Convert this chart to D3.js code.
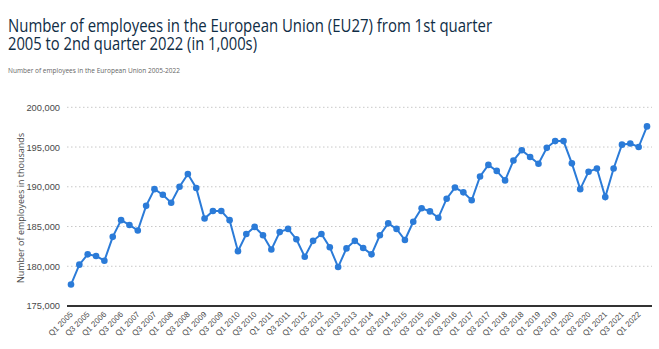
<!DOCTYPE html>
<html>
<head>
<meta charset="utf-8">
<script src="https://cdn.jsdelivr.net/npm/d3@7"></script>
<style>
  body { margin: 0; background: #fff; }
  svg { font-family: "Open Sans", sans-serif; }
  .grid line { stroke: #c8c8c8; stroke-dasharray: 1.5 2.5; }
  .axis text { fill: #4a4a4a; }
</style>
</head>
<body>
<div id="chart"></div>
<script>
// employees in the EU27, thousands, Q1 2005 .. Q2 2022
var years = d3.range(2005, 2023);
var quarters = [];
years.forEach(function(y) {
  ["Q1", "Q2", "Q3", "Q4"].forEach(function(q) { quarters.push(q + " " + y); });
});
quarters = quarters.slice(0, 70);

var employees = [
  177.7, 180.2, 181.5, 181.3, 180.7, 183.7, 185.8, 185.2, 184.5, 187.6,
  189.7, 189.0, 188.0, 190.0, 191.6, 189.85, 186.0, 186.95, 186.95, 185.8,
  181.9, 184.05, 184.95, 183.9, 182.1, 184.3, 184.7, 183.4, 181.2, 183.2,
  184.05, 182.4, 179.9, 182.25, 183.2, 182.3, 181.5, 183.9, 185.4, 184.7,
  183.3, 185.6, 187.3, 186.9, 186.1, 188.5, 189.9, 189.3, 188.3, 191.3,
  192.75, 192.0, 190.8, 193.3, 194.6, 193.75, 192.9, 194.9, 195.75, 195.75,
  192.95, 189.7, 191.9, 192.3, 188.7, 192.3, 195.3, 195.45, 195.0, 197.6
];

var yTicks = [175000, 180000, 185000, 190000, 195000, 200000];

var data = quarters.map(function(q, i) { return { quarter: q, value: employees[i] * 1000 }; });

var width = 659, height = 349;
var margin = { top: 107, left: 67, right: 7, bottom: 43 };

var svg = d3.select("#chart")
  .append("svg")
  .attr("width", width)
  .attr("height", height);

// two-line title as one text block
var title = svg.append("text")
  .attr("font-size", 18)
  .attr("fill", "#0f2d45");

title.append("tspan")
  .attr("x", 8).attr("y", 32)
  .attr("textLength", 484).attr("lengthAdjust", "spacingAndGlyphs")
  .text("Number of employees in the European Union (EU27) from 1st quarter");

title.append("tspan")
  .attr("x", 8).attr("y", 50)
  .attr("textLength", 249).attr("lengthAdjust", "spacingAndGlyphs")
  .text("2005 to 2nd quarter 2022 (in 1,000s)");

svg.append("text")
  .attr("x", 8).attr("y", 73)
  .attr("font-size", 7.5)
  .attr("fill", "#666")
  .attr("textLength", 172).attr("lengthAdjust", "spacingAndGlyphs")
  .text("Number of employees in the European Union 2005-2022");

var xPositionScale = d3.scalePoint()
  .domain(quarters)
  .range([71, 647]);

var yPositionScale = d3.scaleLinear()
  .domain([175000, 200000])
  .range([306, 107.3]);

// gridlines
svg.append("g")
  .attr("class", "grid")
  .selectAll("line")
  .data(yTicks.slice(1))
  .enter().append("line")
  .attr("x1", margin.left)
  .attr("x2", 652)
  .attr("y1", function(d) { return yPositionScale(d); })
  .attr("y2", function(d) { return yPositionScale(d); });

var yAxis = d3.axisLeft(yPositionScale)
  .tickValues(yTicks)
  .tickSize(0)
  .tickPadding(7)
  .tickFormat(d3.format(","));

svg.append("g")
  .attr("class", "y axis")
  .attr("transform", "translate(" + margin.left + ",0)")
  .call(yAxis)
  .call(function(g) { g.select(".domain").remove(); })
  .selectAll("text")
  .attr("font-size", 9.3);

svg.append("text")
  .attr("transform", "translate(24,208) rotate(-90)")
  .attr("text-anchor", "middle")
  .attr("font-size", 9)
  .attr("fill", "#4a4a4a")
  .text("Number of employees in thousands");

// baseline
svg.append("line")
  .attr("x1", margin.left).attr("x2", 652)
  .attr("y1", yPositionScale(175000)).attr("y2", yPositionScale(175000))
  .attr("stroke", "#333")
  .attr("stroke-width", 2);

var xAxis = d3.axisBottom(xPositionScale)
  .tickValues(quarters.filter(function(d, i) { return i % 2 === 0; }))
  .tickSize(0);

svg.append("g")
  .attr("class", "x axis")
  .attr("transform", "translate(0,310)")
  .call(xAxis)
  .call(function(g) { g.select(".domain").remove(); })
  .selectAll("text")
  .attr("font-size", 8)
  .attr("y", 0)
  .attr("x", -2)
  .attr("dy", ".6em")
  .attr("transform", "rotate(-45)")
  .style("text-anchor", "end");

var line = d3.line()
  .x(function(d) { return xPositionScale(d.quarter); })
  .y(function(d) { return yPositionScale(d.value); });

svg.append("path")
  .datum(data)
  .attr("fill", "none")
  .attr("stroke", "#2b7bd8")
  .attr("stroke-width", 2)
  .attr("d", line);

svg.selectAll(".dot")
  .data(data)
  .enter().append("circle")
  .attr("class", "dot")
  .attr("cx", function(d) { return xPositionScale(d.quarter); })
  .attr("cy", function(d) { return yPositionScale(d.value); })
  .attr("r", 3.3)
  .attr("fill", "#2b7bd8");
</script>
</body>
</html>
